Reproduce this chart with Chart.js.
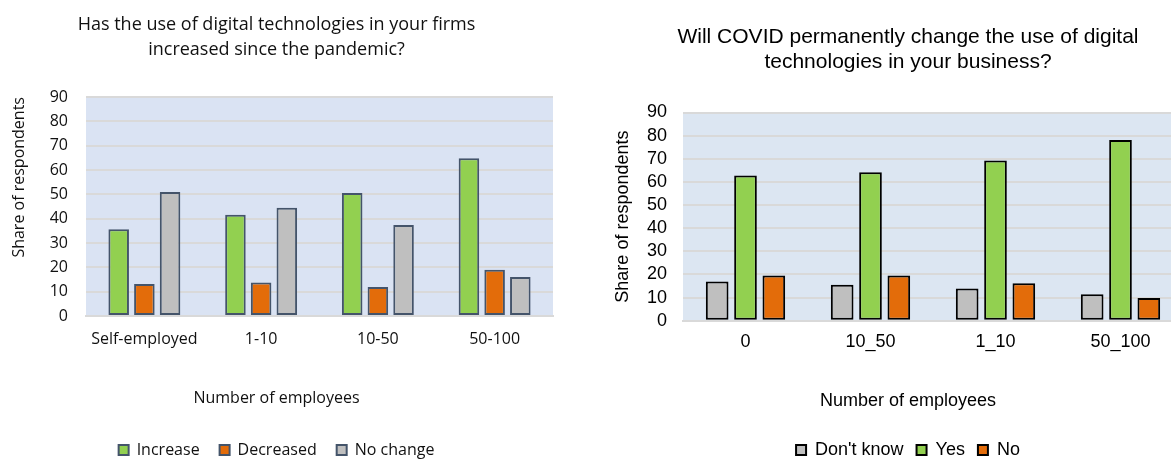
<!DOCTYPE html>
<html>
<head>
<meta charset="utf-8">
<script src="https://cdn.jsdelivr.net/npm/chart.js@4"></script>
<style>
  html, body { margin: 0; padding: 0; background: #fff; overflow: hidden; }
  #left { position: absolute; left: 0; top: 0; width: 580px; height: 468px; }
  #right { position: absolute; left: 590px; top: 0; width: 640px; height: 469px; }
</style>
</head>
<body>
<div id="left"><canvas id="useChart"></canvas></div>
<div id="right"><canvas id="covidChart"></canvas></div>
<script>
// left chart: has digital use increased
const sizeLabels = ['Self-employed', '1-10', '10-50', '50-100'];
const increase = [35.6, 41.6, 50.5, 64.8];
const decreased = [13.2, 13.8, 11.9, 19.0];
const noChange = [51.0, 44.5, 37.4, 16.0];

// right chart: will covid change it permanently
const covidLabels = ['0', '10_50', '1_10', '50_100'];
const dontKnow = [16.9, 15.5, 13.9, 11.4];
const yes = [62.8, 64.2, 69.3, 78.1];
const no = [19.5, 19.5, 16.2, 9.8];

const GREEN = '#92d050', ORANGE = '#e36c0a', GREY = '#bfbfbf';

// light blue fill behind the plot area
const plotBg = {
  id: 'plotBg',
  beforeDraw(chart, args, opts) {
    const { ctx, chartArea: a } = chart;
    ctx.save();
    ctx.fillStyle = opts.color;
    ctx.fillRect(a.left, a.top, a.right - a.left, a.bottom - a.top);
    ctx.restore();
  }
};

function bars(label, data, color, border, bw) {
  return { label: label, data: data, backgroundColor: color, borderColor: border,
           borderWidth: bw, borderSkipped: false };
}

new Chart(document.getElementById('useChart'), {
  type: 'bar',
  plugins: [plotBg],
  data: {
    labels: sizeLabels,
    datasets: [
      bars('Increase', increase, GREEN, '#44546a', 2),
      bars('Decreased', decreased, ORANGE, '#44546a', 2),
      bars('No change', noChange, GREY, '#44546a', 2)
    ]
  },
  options: {
    responsive: true,
    maintainAspectRatio: false,
    animation: false,
    layout: { padding: { left: 0, right: 27, top: 0, bottom: 0 } },
    datasets: { bar: { categoryPercentage: 0.66, barPercentage: 0.8 } },
    scales: {
      x: {
        grid: { display: false, drawTicks: false },
        border: { display: true, color: '#d9d9d9', width: 2 },
        ticks: { font: { family: 'Open Sans', size: 16 }, color: '#111', padding: 14 },
        afterFit(s) { s.height = 33; }
      },
      y: {
        min: 0, max: 90,
        ticks: { stepSize: 10, padding: 18, color: '#111', autoSkip: false,
                 font: { family: 'Open Sans', size: 16 } },
        grid: { color: '#d9d9d9', lineWidth: 2, drawTicks: false },
        border: { display: false },
        title: { display: true, text: 'Share of respondents', align: 'end', color: '#111',
                 font: { family: 'Open Sans', size: 16 }, padding: { top: 10, bottom: 0 } },
        afterFit(s) { s.width = 86; }
      }
    },
    plugins: {
      plotBg: { color: '#dae3f3' },
      tooltip: { enabled: false },
      title: {
        display: true,
        text: ['Has the use of digital technologies in your firms', 'increased since the pandemic?'],
        color: '#111',
        font: { family: 'Open Sans', size: 18, weight: 'normal', lineHeight: '25px' },
        padding: { top: 12.5, bottom: 34.5 }
      },
      // x axis caption, kept between the axis and the legend
      subtitle: {
        display: true,
        position: 'bottom',
        weight: 500,
        text: 'Number of employees',
        color: '#111',
        font: { family: 'Open Sans', size: 16 },
        padding: { top: 39.4, bottom: 14.4 }
      },
      legend: {
        position: 'bottom',
        labels: { boxWidth: 10, boxHeight: 10, padding: 20, color: '#111',
                  font: { family: 'Open Sans', size: 16 } }
      }
    }
  }
});

new Chart(document.getElementById('covidChart'), {
  type: 'bar',
  plugins: [plotBg],
  data: {
    labels: covidLabels,
    datasets: [
      bars("Don't know", dontKnow, GREY, '#000', 2),
      bars('Yes', yes, GREEN, '#000', 2),
      bars('No', no, ORANGE, '#000', 2)
    ]
  },
  options: {
    responsive: true,
    maintainAspectRatio: false,
    animation: false,
    layout: { padding: { left: 43, right: 47, top: 0, bottom: 0 } },
    datasets: { bar: { categoryPercentage: 0.68, barPercentage: 0.8 } },
    scales: {
      x: {
        grid: { display: false, drawTicks: false },
        border: { display: true, color: '#d9d9d9', width: 2 },
        ticks: { font: { family: 'Liberation Sans', size: 18 }, color: '#000', padding: 11 },
        afterFit(s) { s.height = 32.6; }
      },
      y: {
        min: 0, max: 90,
        ticks: { stepSize: 10, padding: 16, color: '#000', autoSkip: false,
                 font: { family: 'Liberation Sans', size: 18 } },
        grid: { color: '#d9d9d9', lineWidth: 2, drawTicks: false },
        border: { display: false },
        title: { display: true, text: 'Share of respondents', color: '#000',
                 font: { family: 'Liberation Sans', size: 18 }, padding: { top: -21, bottom: 0 } },
        afterFit(s) { s.width = 50; }
      }
    },
    plugins: {
      plotBg: { color: '#dce6f2' },
      tooltip: { enabled: false },
      title: {
        display: true,
        text: ['Will COVID permanently change the use of digital', 'technologies in your business?'],
        color: '#000',
        font: { family: 'Liberation Sans', size: 21, weight: 'normal', lineHeight: '25px' },
        padding: { top: 24.5, bottom: 38 }
      },
      subtitle: {
        display: true,
        position: 'bottom',
        weight: 500,
        text: 'Number of employees',
        color: '#000',
        font: { family: 'Liberation Sans', size: 18 },
        padding: { top: 36.9, bottom: 16.2 }
      },
      legend: {
        position: 'bottom',
        labels: { boxWidth: 10, boxHeight: 10, padding: 13, color: '#000',
                  font: { family: 'Liberation Sans', size: 18 } }
      }
    }
  }
});
</script>
</body>
</html>
